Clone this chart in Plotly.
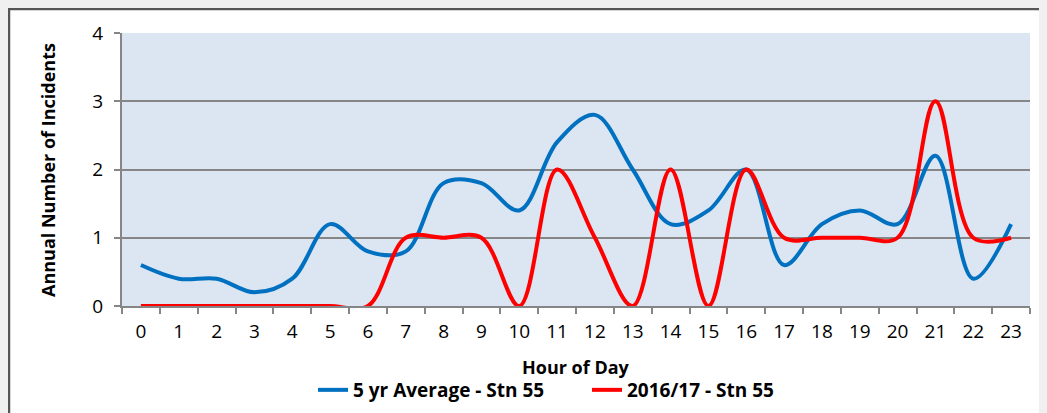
import plotly.graph_objects as go

hours = [str(h) for h in range(24)]
avg5 = [0.6, 0.4, 0.4, 0.2, 0.4, 1.2, 0.8, 0.8, 1.8, 1.8, 1.4, 2.4, 2.8, 2.0, 1.2, 1.4, 2.0, 0.6, 1.2, 1.4, 1.2, 2.2, 0.4, 1.2]
y1617 = [0, 0, 0, 0, 0, 0, 0, 1, 1, 1, 0, 2, 1, 0, 2, 0, 2, 1, 1, 1, 1, 3, 1, 1]
name_avg = "5 yr Average - Stn 55"
name_cur = "2016/17 - Stn 55"

OFF = 8  # page body margin
W, H = 1047, 413
L, T = 122 - OFF, 33 - OFF
PR, PB = 1030 - OFF, 306 - OFF
R, B = W - PR, H - PB
pw, ph = PR - L, PB - T

def px(x):  # screen x -> paper
    return (x - OFF - L) / pw

def py(y):  # screen y -> paper
    return (PB - (y - OFF)) / ph

fig = go.Figure()
fig.add_trace(go.Scatter(x=hours, y=avg5, name=name_avg, mode="lines", legend="legend",
                         line=dict(color="#0070c0", width=4, shape="spline", smoothing=1)))
fig.add_trace(go.Scatter(x=hours, y=y1617, name=name_cur, mode="lines", legend="legend2",
                         line=dict(color="#ff0000", width=4, shape="spline", smoothing=1)))

font = "'Open Sans', sans-serif"
leg_common = dict(orientation="h", xanchor="left", yanchor="middle", y=py(390),
                  font=dict(size=19, color="#000", family=font, weight="bold"),
                  bgcolor="rgba(0,0,0,0)", tracegroupgap=0)
fig.update_layout(
    width=W, height=H,
    margin=dict(l=L, r=R, t=T, b=B),
    paper_bgcolor="#f0f0f0",
    plot_bgcolor="#dce6f2",
    font=dict(family=font, size=19, color="#000"),
    showlegend=True,
    legend=dict(x=px(313), **leg_common),
    legend2=dict(x=px(587), **leg_common),
    xaxis=dict(type="category", range=[-0.5, 23.5], tickson="boundaries", ticks="outside",
               ticklen=6, tickcolor="#868686", tickwidth=1.5, showgrid=False,
               showline=True, linecolor="#868686", linewidth=2, tickfont=dict(size=19),
               ticklabelstandoff=7),
    yaxis=dict(range=[0, 4], dtick=1, ticks="outside", ticklen=6, tickcolor="#868686",
               tickwidth=1.5, showgrid=True, gridcolor="#868686", gridwidth=2,
               showline=True, linecolor="#868686", linewidth=2, zeroline=False,
               tickfont=dict(size=19), ticklabelstandoff=7),
    shapes=[
        dict(type="rect", xref="paper", yref="paper", layer="below",
             x0=px(9), x1=px(1080), y0=py(440), y1=py(9),
             fillcolor="white", line=dict(color="#555555", width=2.5)),
        dict(type="rect", xref="paper", yref="paper", layer="below",
             x0=0, x1=1, y0=0, y1=1, fillcolor="#dce6f2", line=dict(width=0)),
    ],
    annotations=[
        dict(text="<b>Hour of Day</b>", xref="paper", yref="paper", x=px(576), y=py(367),
             showarrow=False, font=dict(size=18), xanchor="center", yanchor="middle"),
        dict(text="<b>Annual Number of Incidents</b>", xref="paper", yref="paper",
             x=px(48), y=py(170), textangle=-90, showarrow=False, font=dict(size=18),
             xanchor="center", yanchor="middle"),
    ],
)

fig.write_html("out.html", post_script="document.body.style.background='#f0f0f0';")
